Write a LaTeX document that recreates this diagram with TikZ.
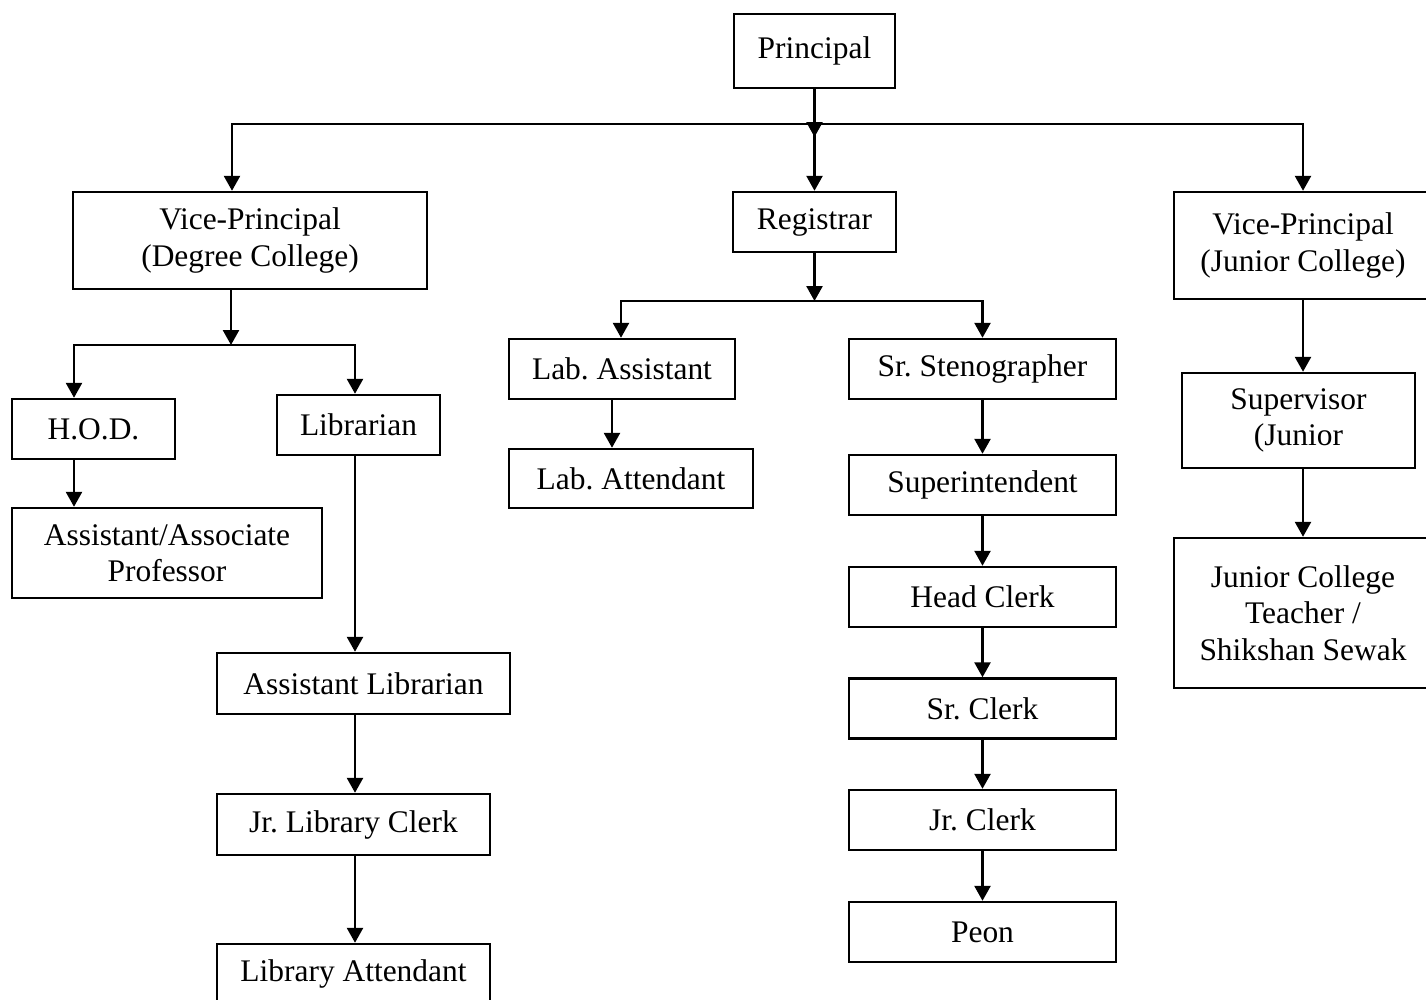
\documentclass[tikz,border=0pt]{standalone}
\usepackage{fontspec}
\setmainfont{Liberation Serif}
\usetikzlibrary{arrows.meta,positioning,calc}
\frenchspacing

\begin{document}
\begin{tikzpicture}[
    x=0.02cm, y=-0.02cm,
    post/.style={draw,line width=1.4pt,minimum height=1.2cm,align=center,inner sep=2pt,
      font=\fontsize{17.9}{20.7}\selectfont},
    arrow/.style={-{Triangle[length=3mm,width=3.2mm]},line width=1.5pt}
  ]
  \useasboundingbox (0,0) rectangle (1426,1000);

  % top level
  \node[post,minimum width=3.22cm,minimum height=1.48cm] (principal) at (814.5,51) {Principal};
  \node[post,minimum width=7.08cm,minimum height=1.94cm] (vpdeg) at (250,240.5) {Vice-Principal\\(Degree College)};
  \node[post,minimum width=3.26cm] (registrar) at (814.5,222) {Registrar};
  \node[post,minimum width=5.16cm,minimum height=2.14cm] (vpjun) at (1303,245.5) {Vice-Principal\\(Junior College)};

  % degree college
  \node[post,minimum width=3.26cm] (hod) at (93.5,429) {H.O.D.};
  \node[post,minimum width=3.26cm] (librarian) at (358.5,425) {Librarian};
  \node[post,minimum width=6.2cm,minimum height=1.8cm] (aap) at (167,553) {Assistant/Associate\\Professor};
  \node[post,minimum width=5.86cm,minimum height=1.22cm] (asstlib) at (363.5,683.5) {Assistant Librarian};
  \node[post,minimum width=5.46cm,minimum height=1.22cm] (jrlibclerk) at (353.5,824.5) {Jr. Library Clerk};
  \node[post,minimum width=5.46cm] (libatt) at (353.5,974) {Library Attendant};

  % office
  \node[post,minimum width=4.52cm] (labasst) at (622,369) {Lab. Assistant};
  \node[post,minimum width=4.88cm,minimum height=1.18cm] (labatt) at (631,478.5) {Lab. Attendant};
  \node[post,minimum width=5.34cm] (srsteno) at (982.5,369) {Sr. Stenographer};
  \node[post,minimum width=5.34cm] (superint) at (982.5,485) {Superintendent};
  \node[post,minimum width=5.34cm] (headclerk) at (982.5,597) {Head Clerk};
  \node[post,minimum width=5.34cm] (srclerk) at (982.5,708.5) {Sr. Clerk};
  \node[post,minimum width=5.34cm] (jrclerk) at (982.5,820) {Jr. Clerk};
  \node[post,minimum width=5.34cm] (peon) at (982.5,932) {Peon};

  % junior college
  \node[post,minimum width=4.66cm,minimum height=1.9cm] (supervisor) at (1298.5,420.5) {Supervisor\\(Junior};
  \node[post,minimum width=5.16cm,minimum height=3cm] (jct) at (1303,613) {Junior College\\Teacher /\\Shikshan Sewak};

  % junction points
  \coordinate (pTip) at (814.5,137);
  \coordinate (bM) at (814.5,124);
  \coordinate (bL) at (232,124);
  \coordinate (dM) at (231,345);
  \coordinate (dL) at (74,345);
  \coordinate (dR) at (355,345);
  \coordinate (rM) at (814.5,301);
  \coordinate (rL) at (621,301);
  \coordinate (lx) at (612,400);

  \draw[arrow] (principal.south) -- (pTip);
  \draw[arrow] (bM) -| (vpdeg.north -| bL);
  \draw[arrow] (bM) -- (registrar.north);
  \draw[arrow] (bM) -| (vpjun.north);

  \draw[arrow] (vpdeg.south -| dM) -- (dM);
  \draw[arrow] (dM) -| (hod.north -| dL);
  \draw[arrow] (dM) -| (librarian.north -| dR);
  \draw[arrow] (hod.south -| dL) -- (aap.north -| dL);
  \draw[arrow] (librarian.south -| dR) -- (asstlib.north -| dR);
  \draw[arrow] (asstlib.south -| dR) -- (jrlibclerk.north -| dR);
  \draw[arrow] (jrlibclerk.south -| dR) -- (libatt.north -| dR);

  \draw[arrow] (registrar.south) -- (rM);
  \draw[arrow] (rM) -| (labasst.north -| rL);
  \draw[arrow] (rM) -| (srsteno.north);
  \draw[arrow] (labasst.south -| lx) -- (labatt.north -| lx);
  \draw[arrow] (srsteno) -- (superint);
  \draw[arrow] (superint) -- (headclerk);
  \draw[arrow] (headclerk) -- (srclerk);
  \draw[arrow] (srclerk) -- (jrclerk);
  \draw[arrow] (jrclerk) -- (peon);

  \draw[arrow] (vpjun.south) -- (supervisor.north -| vpjun.south);
  \draw[arrow] (supervisor.south -| jct.north) -- (jct.north);
\end{tikzpicture}
\end{document}
